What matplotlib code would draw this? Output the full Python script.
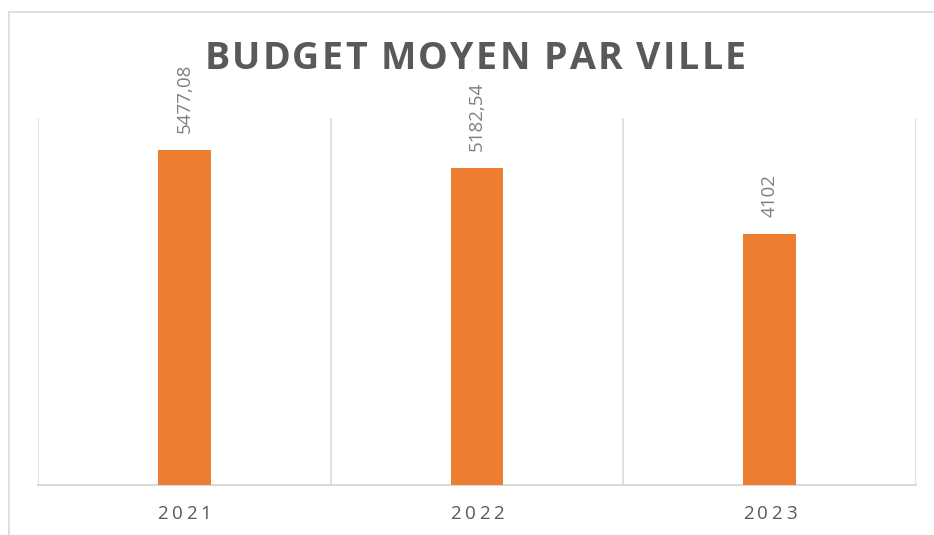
import matplotlib
matplotlib.use("Agg")
import matplotlib.pyplot as plt
from matplotlib.lines import Line2D
from matplotlib.transforms import blended_transform_factory

# Données
annees = ["2021", "2022", "2023"]
budget = [5477.08, 5182.54, 4102]
etiquettes = ["5477,08", "5182,54", "4102"]

plt.rcParams['font.family'] = ['Open Sans', 'DejaVu Sans']

fig = plt.figure(figsize=(9.34, 5.35), dpi=100)
ax = fig.add_axes([38/934, 50/535, (916-38)/934, (485-118)/535])
rend = fig.canvas.get_renderer()


def largeur(s, **kw):
	t = fig.text(0, 0, s, **kw)
	w = t.get_window_extent(rend).width
	t.remove()
	return w


def texte_espace(xc, y, s, espace, transform, **kw):
	"""Texte centré avec espacement des lettres (en pixels)."""
	l_esp = largeur("a a", **kw) - largeur("aa", **kw)
	largeurs = [l_esp if c == " " else largeur(c, **kw) for c in s]
	total = sum(largeurs) + espace * (len(s) - 1)
	px0 = transform.transform((xc, y))
	pos = px0[0] - total / 2
	inv = fig.transFigure.inverted()
	for c, w in zip(s, largeurs):
		if c != " ":
			fig.text(*inv.transform((pos, px0[1])), c, ha="left", va="center", **kw)
		pos += w + espace


x = range(len(annees))
ax.bar(x, budget, width=0.18, color="#ED7D31", zorder=3)

for xi, v, lab in zip(x, budget, etiquettes):
	ax.annotate(lab, (xi, v), xytext=(0, 12), textcoords="offset points",
		rotation=90, ha="center", va="bottom", fontsize=13.5, color="#7F7F7F")

ax.set_xlim(-0.5, 2.5)
ax.set_ylim(0, 6000)
ax.set_yticks([])
ax.set_xticks([])

#Séparateurs de catégories
for b in [-0.5, 0.5, 1.5, 2.5]:
	ax.axvline(b, color="#D9D9D9", lw=1.2, zorder=1)

for s in ["top", "right", "left"]:
	ax.spines[s].set_visible(False)
ax.spines["bottom"].set_color("#D9D9D9")
ax.spines["bottom"].set_linewidth(1.5)

#Titre et étiquettes de l'axe
texte_espace(475/934, 1 - 59/535, "BUDGET MOYEN PAR VILLE", 2.2, fig.transFigure,
	fontsize=27, fontweight="bold", color="#595959")

tr = blended_transform_factory(ax.transData, fig.transFigure)
for xi, a in zip(x, annees):
	texte_espace(xi, 1 - 514/535, a, 3.6, tr, fontsize=13.5, color="#595959")

#Cadre du graphique
fig.add_artist(Line2D([9/934, 1], [1 - 12/535, 1 - 12/535], color="#D9D9D9", lw=1.2))
fig.add_artist(Line2D([9/934, 9/934], [0, 1 - 12/535], color="#D9D9D9", lw=1.2))

fig.savefig("out.png", dpi=100)
